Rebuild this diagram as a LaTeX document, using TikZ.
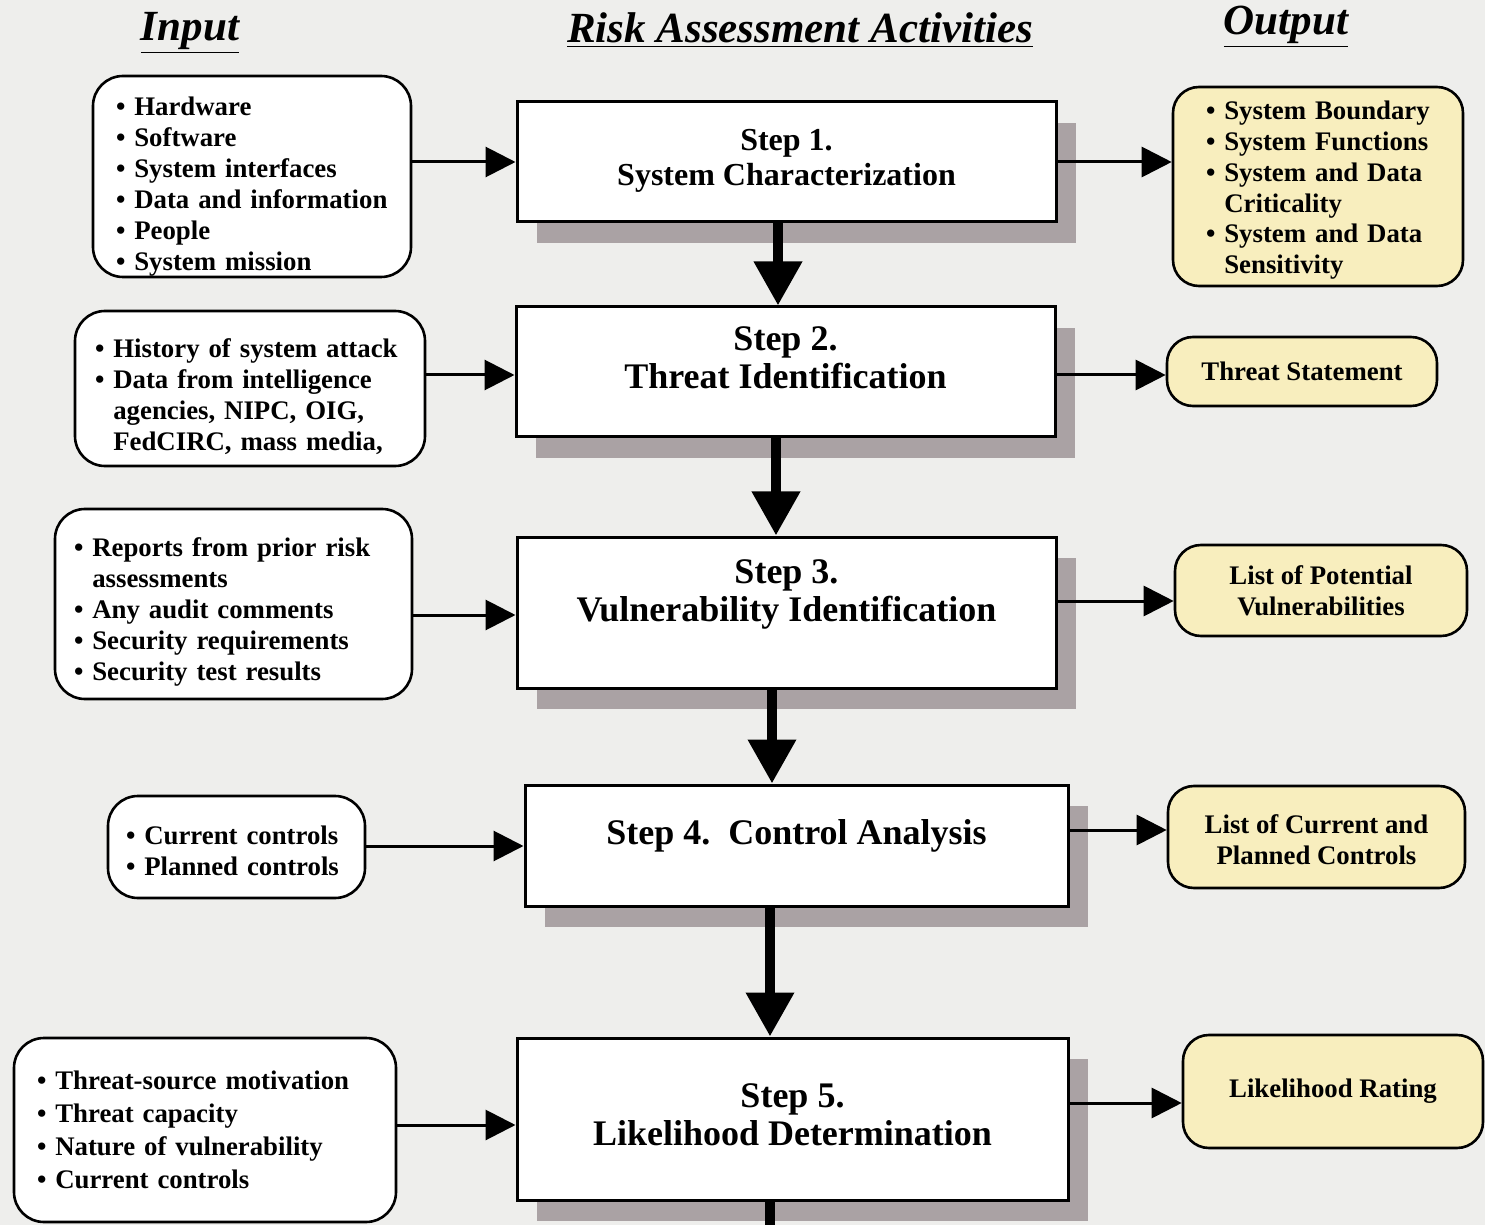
\documentclass[tikz,border=0pt]{standalone}
\usepackage{fontspec}
\setmainfont{Liberation Serif}
\usetikzlibrary{arrows.meta,shadows}
\definecolor{bgc}{RGB}{238,238,236}
\definecolor{outfill}{RGB}{248,238,190}
\definecolor{shadowc}{RGB}{170,162,164}
\newcommand{\mybul}{\textbullet~}
\newcommand{\myind}{\phantom{\textbullet~}}
\newcommand{\uptall}[1]{\rule{0pt}{#1}}
\newcommand{\downdeep}[1]{\rule[-#1]{0pt}{0pt}}
\tikzset{
  stepbox/.style={draw, line width=1.5pt, fill=white, align=center, inner sep=0pt,
    font=\bfseries\fontsize{18}{19}\selectfont,
    general shadow={fill=shadowc, shadow xshift=10pt, shadow yshift=-10.5pt}},
  inbox/.style={draw, line width=1.3pt, fill=white, rounded corners=15pt, align=left,
    inner ysep=0pt, font=\bfseries\fontsize{13.4}{15.5}\selectfont},
  outbox/.style={draw, line width=1.3pt, fill=outfill, rounded corners=13pt,
    inner ysep=0pt, font=\bfseries\fontsize{13.4}{15.4}\selectfont},
  thinarrow/.style={line width=1.5pt, -{Triangle[length=15pt,width=15pt]}},
  bigarrow/.style={line width=5pt, -{Triangle[length=22pt,width=23pt]}},
  thickline/.style={line width=5pt},
  header/.style={font=\bfseries\itshape\fontsize{21.5}{24}\selectfont}
}
\begin{document}
\begin{tikzpicture}[x=0.5pt,y=-0.5pt]
\path[use as bounding box, fill=bgc] (0,0) rectangle (1485,1225);

% headers
\node[header] (H1) at (190,33) {\underline{Input}};
\node[header] (H2) at (800,30) {\underline{Risk Assessment Activities}};
\node[header] (H3) at (1286,27) {\underline{Output}};

% step boxes
\node[stepbox, minimum width=269.5pt, minimum height=60pt,
  font=\bfseries\fontsize{16}{17.5}\selectfont] (S1) at (786.5,162)
  {Step 1.\\ System Characterization\downdeep{5pt}};
\node[stepbox, minimum width=269.5pt, minimum height=65pt] (S2) at (785.5,372)
  {Step 2.\\ Threat Identification\downdeep{14pt}};
\node[stepbox, minimum width=269.5pt, minimum height=75.5pt] (S3) at (786.5,612.5)
  {Step 3.\\ Vulnerability Identification\downdeep{22pt}};
\node[stepbox, minimum width=271.5pt, minimum height=60.5pt] (S4) at (796.5,845.5)
  {Step 4.~~Control Analysis\downdeep{13pt}};
\node[stepbox, minimum width=275.5pt, minimum height=81pt] (S5) at (792.5,1119)
  {Step 5.\\ Likelihood Determination\downdeep{4pt}};

% input boxes
\node[inbox, inner xsep=11.5pt, text width=136pt, minimum height=100.5pt] (I1) at (252,176.5)
  {\uptall{19pt}\mybul Hardware\\ \mybul Software\\ \mybul System interfaces\\ \mybul Data and information\\ \mybul People\\ \mybul System mission};
\node[inbox, inner xsep=10pt, text width=155pt, minimum height=77.5pt] (I2) at (250,388.5)
  {\uptall{18pt}\mybul History of system attack\\ \mybul Data from intelligence\\ \myind agencies, NIPC, OIG,\\ \myind FedCIRC, mass media,};
\node[inbox, inner xsep=9.5pt, text width=159.5pt, minimum height=95pt] (I3) at (233.5,604)
  {\uptall{17pt}\mybul Reports from prior risk\\ \myind assessments\\ \mybul Any audit comments\\ \mybul Security requirements\\ \mybul Security test results};
\node[inbox, inner xsep=9pt, text width=110.5pt, minimum height=51pt] (I4) at (236.5,847)
  {\uptall{13pt}\mybul Current controls\\ \mybul Planned controls};
\node[inbox, inner xsep=11.5pt, text width=168pt, minimum height=92pt,
  font=\bfseries\fontsize{13.4}{16.5}\selectfont] (I5) at (205,1130)
  {\mybul Threat-source motivation\\ \mybul Threat capacity\\ \mybul Nature of vulnerability\\ \mybul Current controls};

% output boxes
\node[outbox, align=left, inner xsep=16.5pt, text width=112pt, minimum height=99.5pt] (O1) at (1318,186.5)
  {\uptall{13pt}\mybul System Boundary\\ \mybul System Functions\\ \mybul System and Data\\ \myind Criticality\\ \mybul System and Data\\ \myind Sensitivity};
\node[outbox, align=center, minimum width=135pt, minimum height=34.5pt] (O2) at (1302,371.5)
  {Threat Statement};
\node[outbox, align=center, minimum width=146pt, minimum height=45.5pt] (O3) at (1321,590.5)
  {List of Potential\\ Vulnerabilities};
\node[outbox, align=center, minimum width=148.5pt, minimum height=51pt] (O4) at (1316.5,837)
  {\uptall{12pt}List of Current and\\ Planned Controls};
\node[outbox, align=center, minimum width=150pt, minimum height=56.5pt] (O5) at (1333,1091.5)
  {Likelihood Rating};

% row / column coordinates
\coordinate (r1) at (0,162);
\coordinate (r2) at (0,375);
\coordinate (r3) at (0,615);
\coordinate (r4) at (0,846);
\coordinate (r5) at (0,1125);
\coordinate (q1) at (0,162);
\coordinate (q2) at (0,375);
\coordinate (q3) at (0,601);
\coordinate (q4) at (0,830);
\coordinate (q5) at (0,1103);
\coordinate (v1) at (778,0);
\coordinate (v2) at (776,0);
\coordinate (v3) at (772,0);
\coordinate (v4) at (770,0);
\coordinate (bot) at (770,1226);

% input arrows
\draw[thinarrow] (I1.east |- r1) -- (S1.west |- r1);
\draw[thinarrow] (I2.east |- r2) -- (S2.west |- r2);
\draw[thinarrow] (I3.east |- r3) -- (S3.west |- r3);
\draw[thinarrow] (I4.east |- r4) -- (S4.west |- r4);
\draw[thinarrow] (I5.east |- r5) -- (S5.west |- r5);

% output arrows
\draw[thinarrow] (S1.east |- q1) -- (O1.west |- q1);
\draw[thinarrow] (S2.east |- q2) -- (O2.west |- q2);
\draw[thinarrow] (S3.east |- q3) -- (O3.west |- q3);
\draw[thinarrow] (S4.east |- q4) -- (O4.west |- q4);
\draw[thinarrow] (S5.east |- q5) -- (O5.west |- q5);

% main flow arrows
\draw[bigarrow] (S1.south -| v1) -- (S2.north -| v1);
\draw[bigarrow] (S2.south -| v2) -- (S3.north -| v2);
\draw[bigarrow] (S3.south -| v3) -- (S4.north -| v3);
\draw[bigarrow] (S4.south -| v4) -- (S5.north -| v4);
\draw[thickline] (S5.south -| bot) -- (bot);
\end{tikzpicture}
\end{document}
